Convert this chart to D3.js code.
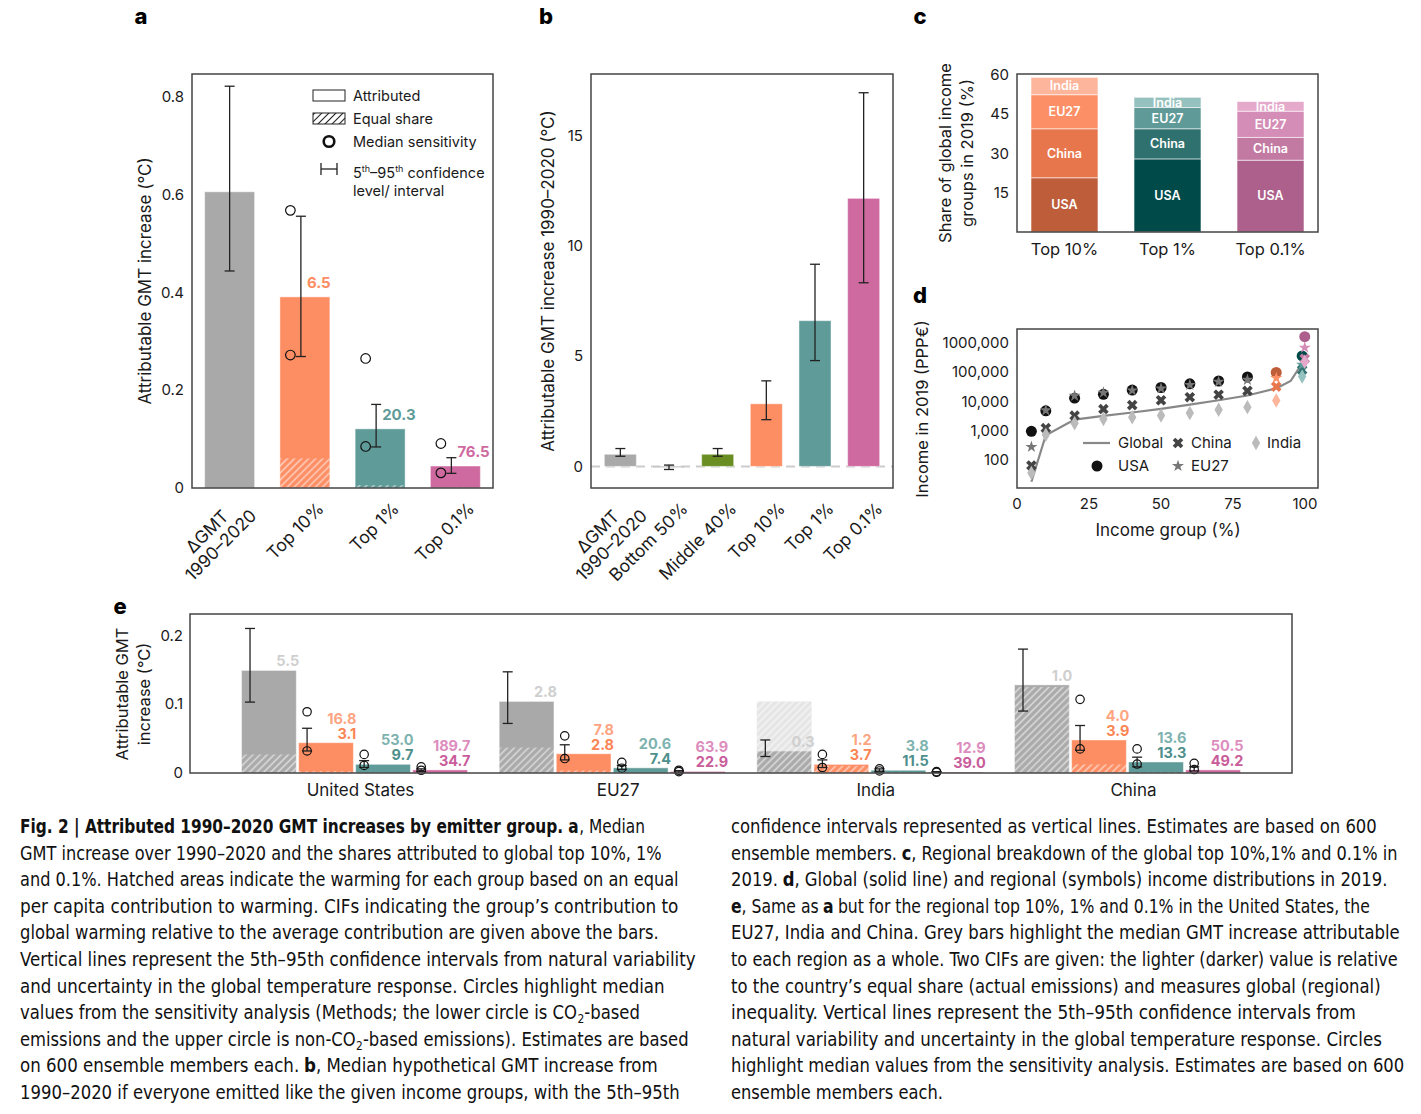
<!DOCTYPE html>
<html><head><meta charset="utf-8">
<script src="https://cdn.jsdelivr.net/npm/d3@7"></script>
<style>
body{margin:0;background:#fff}
svg{display:block;font-family:Inter,"Noto Sans",sans-serif}
</style></head><body>
<svg id="fig" width="1421" height="1114"></svg>
<script>
// ---- data: panel a
const aGroups = ["ΔGMT|1990–2020", "Top 10%", "Top 1%", "Top 0.1%"];
const aAttributed = [0.606, 0.391, 0.121, 0.045];
const aEqual = [null, 0.0606, 0.006, 0.0006];
const aErrLo = [0.444, 0.269, 0.084, 0.030];
const aErrHi = [0.822, 0.556, 0.171, 0.062];
const aSensLo = [null, 0.272, 0.085, 0.031];
const aSensHi = [null, 0.568, 0.265, 0.091];
const aCIF = [null, "6.5", "20.3", "76.5"];
const aTicks = [0, 0.2, 0.4, 0.6, 0.8];

// ---- data: panel b
const bGroups = ["ΔGMT|1990–2020", "Bottom 50%", "Middle 40%", "Top 10%", "Top 1%", "Top 0.1%"];
const bValues = [0.55, -0.04, 0.55, 2.84, 6.61, 12.16];
const bErrLo = [0.46, -0.14, 0.46, 2.12, 4.80, 8.33];
const bErrHi = [0.81, 0.06, 0.81, 3.88, 9.17, 16.95];
const bTicks = [0, 5, 10, 15];

// ---- data: panel c (share of global income group, %)
const cGroups = ["Top 10%", "Top 1%", "Top 0.1%"];
const cRegions = ["USA", "China", "EU27", "India"];
const cUSA = [20.7, 27.9, 27.4];
const cChina = [18.7, 11.5, 8.7];
const cEU27 = [13.0, 8.1, 10.0];
const cIndia = [6.6, 3.9, 3.7];
const cTicks = [15, 30, 45, 60];

// ---- data: panel d (income, PPP€)
const dGlobalPct = [5, 10, 20, 30, 40, 50, 60, 70, 80, 90, 95, 99, 99.9];
const dGlobalInc = [18, 700, 2400, 3200, 4200, 5600, 7800, 11000, 16000, 28000, 50000, 200000, 450000];
const dPct = [5, 10, 20, 30, 40, 50, 60, 70, 80, 90, 99, 99.9];
const dUSA = [950, 4800, 13000, 17500, 24500, 30000, 40000, 50000, 69000, 98000, 360000, 1640000];
const dChina = [65, 1230, 3300, 5500, 7500, 11000, 14000, 17000, 23000, 32000, 120000, 290000];
const dEU27 = [280, 5000, 15600, 20000, 24000, 28000, 37000, 47000, 55000, 63000, 180000, 690000];
const dIndia = [36, 730, 1800, 2500, 2900, 3300, 4000, 5200, 6400, 10800, 71000, 230000];
const dYTicks = [100, 1000, 10000, 100000, 1000000];
const dYTickLabels = ["100", "1,000", "10,000", "100,000", "1000,000"];
const dXTicks = [0, 25, 50, 75, 100];

// ---- data: panel e (rows: United States, EU27, India, China; cols: region, top10, top1, top0.1)
const eRegions = ["United States", "EU27", "India", "China"];
const eGroups = ["Region", "Top 10%", "Top 1%", "Top 0.1%"];
const eAttributed = [[0.149, 0.044, 0.0126, 0.0045], [0.104, 0.028, 0.0075, 0.0023], [0.032, 0.0125, 0.004, 0.0013], [0.128, 0.048, 0.016, 0.0045]];
const eEqual = [[0.027, 0.0027, 0.0003, 0.00003], [0.037, 0.0037, 0.0004, 0.00004], [0.104, 0.0104, 0.001, 0.0001], [0.125, 0.0125, 0.0013, 0.0001]];
const eErrLo = [[0.103, 0.032, 0.008, 0.002], [0.072, 0.019, 0.005, 0.0015], [0.024, 0.008, 0.0025, 0.0008], [0.090, 0.033, 0.009, 0.003]];
const eErrHi = [[0.210, 0.065, 0.018, 0.006], [0.147, 0.041, 0.011, 0.0035], [0.048, 0.019, 0.006, 0.002], [0.180, 0.069, 0.023, 0.009]];
const eSensLo = [[null, 0.032, 0.011, 0.004], [null, 0.021, 0.007, 0.002], [null, 0.008, 0.003, 0.001], [null, 0.035, 0.013, 0.005]];
const eSensHi = [[null, 0.089, 0.027, 0.009], [null, 0.054, 0.0155, 0.004], [null, 0.027, 0.006, 0.002], [null, 0.107, 0.035, 0.014]];
const eCIFLight = [["5.5", "16.8", "53.0", "189.7"], ["2.8", "7.8", "20.6", "63.9"], ["0.3", "1.2", "3.8", "12.9"], ["1.0", "4.0", "13.6", "50.5"]];
const eCIFDark = [[null, "3.1", "9.7", "34.7"], [null, "2.8", "7.4", "22.9"], [null, "3.7", "11.5", "39.0"], [null, "3.9", "13.3", "49.2"]];
const eTicks = [0, 0.1, 0.2];

// ---- colours
const GRAY = "#a9a9a9", ORANGE = "#fd8d63", TEAL = "#5f9b98", PINK = "#cf6aa1", GREEN = "#6b8e23";
const aColors = [GRAY, ORANGE, TEAL, PINK];
const bColors = [GRAY, "#777777", GREEN, ORANGE, TEAL, PINK];
const eLight = ["#cfcfcf", "#fda582", "#7eb2af", "#dc8dbd"];
const eDark = ["#bdbdbd", "#fb8553", "#4f8f8c", "#c95c9a"];
const cPalette = [["#be5d3a", "#e8764c", "#fc8f66", "#fdb59b"], ["#004b4a", "#2f716e", "#5f9a98", "#95c1be"], ["#ad608b", "#c27aa2", "#d48db6", "#e5a9cc"]];
const dBase = ["#111111", "#444444", "#777777", "#bbbbbb"];
const INK = "#1a1a1a", FRAME = "#444";

const svg = d3.select('#fig');
const defs = svg.append('defs');
function hatch(id, color, w) {
  defs.append('pattern').attr('id', id).attr('patternUnits', 'userSpaceOnUse')
    .attr('width', 5).attr('height', 5).attr('patternTransform', 'rotate(45)')
    .append('line').attr('x1', 2.5).attr('y1', 0).attr('x2', 2.5).attr('y2', 5)
    .attr('stroke', color).attr('stroke-width', w);
}
hatch('hw', 'rgba(255,255,255,0.6)', 1.5);
hatch('hk', '#222', 1);

function frame(g, x0, x1, y0, y1) {
  g.append('rect').attr('x', x0).attr('y', y0).attr('width', x1 - x0).attr('height', y1 - y0)
    .attr('fill', 'none').attr('stroke', FRAME).attr('stroke-width', 1.5);
}
function errbar(g, x, ya, yb, cap) {
  const s = g.append('g').attr('stroke', '#222').attr('stroke-width', 1.3);
  s.append('line').attr('x1', x).attr('x2', x).attr('y1', ya).attr('y2', yb);
  [ya, yb].forEach(y => s.append('line').attr('x1', x - cap).attr('x2', x + cap).attr('y1', y).attr('y2', y));
}
function circ(g, x, y, r) {
  g.append('circle').attr('cx', x).attr('cy', y).attr('r', r).attr('fill', 'none').attr('stroke', '#111').attr('stroke-width', 1.2);
}
function yLabel(g, x, y, lines, size) {
  lines.forEach((l, i) => g.append('text').attr('transform', `translate(${x + i * size * 1.35},${y}) rotate(-90)`)
    .attr('text-anchor', 'middle').attr('dy', '0.35em').attr('font-size', size).attr('fill', INK).text(l));
}
function yTicks(g, scale, ticks, x, fmt, size) {
  ticks.forEach((t, i) => g.append('text').attr('x', x).attr('y', scale(t)).attr('dy', '0.35em')
    .attr('text-anchor', 'end').attr('font-size', size).attr('fill', INK).text(fmt(t, i)));
}
function rotLabel(g, cx, label, size) {
  const lines = label.split('|');
  if (lines.length === 1) {
    g.append('text').attr('transform', `translate(${cx + 11},501) rotate(-45)`).attr('text-anchor', 'end')
      .attr('dy', '0.72em').attr('font-size', size).attr('fill', INK).text(lines[0]);
  } else {
    const t = g.append('g').attr('transform', `translate(${cx + 19},508) rotate(-45)`);
    const l2 = t.append('text').attr('text-anchor', 'end').attr('dy', '0.72em').attr('font-size', size).attr('fill', INK).text(lines[1]);
    const w = l2.node().getComputedTextLength();
    t.append('text').attr('x', -w / 2).attr('y', -size * 1.1).attr('text-anchor', 'middle').attr('dy', '0.72em')
      .attr('font-size', size).attr('fill', INK).text(lines[0]);
  }
}
function letter(x, y, s) {
  svg.append('text').attr('x', x).attr('y', y).attr('text-anchor', 'middle').attr('font-size', 22)
    .attr('font-weight', 800).attr('fill', '#000').text(s);
}
// bar with optional equal-share hatching
function hatchedBar(g, x, w, y, v, eq, color) {
  g.append('rect').attr('x', x).attr('y', y(Math.max(v, 0))).attr('width', w)
    .attr('height', Math.max(Math.abs(y(v) - y(0)), 0.8)).attr('fill', color)
    .attr('stroke', 'rgba(255,255,255,0.45)').attr('stroke-width', 1);
  if (eq == null) return;
  if (eq > v) g.append('rect').attr('x', x).attr('y', y(eq)).attr('width', w).attr('height', y(v) - y(eq))
    .attr('fill', color).attr('fill-opacity', 0.3);
  g.append('rect').attr('x', x).attr('y', y(eq)).attr('width', w).attr('height', y(0) - y(eq)).attr('fill', 'url(#hw)');
}

// ================= panel a
const ga = svg.append('g');
const ax = d3.scaleBand().domain(aGroups).range([192, 493]).paddingInner(0.336).paddingOuter(0.168);
const ay = d3.scaleLinear().domain([0, 0.847]).range([488, 74]);
const bwA = ax.bandwidth();
aGroups.forEach((g, i) => {
  const x0 = ax(g);
  hatchedBar(ga, x0, bwA, ay, aAttributed[i], aEqual[i], aColors[i]);
  const ex = i === 0 ? x0 + bwA / 2 : x0 + bwA * 0.42;
  errbar(ga, ex, ay(aErrHi[i]), ay(aErrLo[i]), 5);
  if (aSensLo[i] != null) {
    circ(ga, x0 + bwA * 0.21, ay(aSensLo[i]), 4.8);
    circ(ga, x0 + bwA * 0.21, ay(aSensHi[i]), 4.8);
  }
  if (aCIF[i]) ga.append('text').attr('x', ex + 6).attr('y', ay(aAttributed[i]) - 9).attr('font-size', 15)
    .attr('font-weight', 700).attr('fill', aColors[i]).text(aCIF[i]);
  rotLabel(ga, x0 + bwA / 2, g, 17.5);
});
yTicks(ga, ay, aTicks, 184, t => t === 0 ? '0' : t.toFixed(1), 15);
yLabel(ga, 145, 281, ['Attributable GMT increase (°C)'], 17);
frame(ga, 192, 493, 74, 488);
// legend
const lg = ga.append('g').attr('font-size', 14.5).attr('fill', INK);
lg.append('rect').attr('x', 313).attr('y', 90).attr('width', 32).attr('height', 11).attr('fill', 'none').attr('stroke', '#222');
lg.append('rect').attr('x', 313).attr('y', 113).attr('width', 32).attr('height', 11).attr('fill', 'url(#hk)').attr('stroke', '#222');
lg.append('circle').attr('cx', 329).attr('cy', 141.5).attr('r', 5.3).attr('fill', 'none').attr('stroke', '#111').attr('stroke-width', 2.6);
lg.append('g').attr('stroke', '#222').attr('stroke-width', 1.3).call(s => {
  s.append('line').attr('x1', 321).attr('x2', 337).attr('y1', 169).attr('y2', 169);
  s.append('line').attr('x1', 321).attr('x2', 321).attr('y1', 163).attr('y2', 175);
  s.append('line').attr('x1', 337).attr('x2', 337).attr('y1', 163).attr('y2', 175);
});
lg.append('text').attr('x', 353).attr('y', 100.5).text('Attributed');
lg.append('text').attr('x', 353).attr('y', 124).text('Equal share');
lg.append('text').attr('x', 353).attr('y', 147).text('Median sensitivity');
const lt = lg.append('text').attr('x', 353).attr('y', 178);
lt.append('tspan').text('5');
lt.append('tspan').attr('font-size', 9).attr('dy', -6).text('th');
lt.append('tspan').attr('dy', 6).text('–95');
lt.append('tspan').attr('font-size', 9).attr('dy', -6).text('th');
lt.append('tspan').attr('dy', 6).text(' confidence');
lg.append('text').attr('x', 353).attr('y', 196).text('level/ interval');

// ================= panel b
const gb = svg.append('g');
const bx = d3.scaleBand().domain(bGroups).range([591, 893]).paddingInner(0.342).paddingOuter(0.274);
const by = d3.scaleLinear().domain([-0.98, 17.8]).range([488, 74]);
const bwB = bx.bandwidth();
gb.append('line').attr('x1', 591).attr('x2', 893).attr('y1', by(0)).attr('y2', by(0))
  .attr('stroke', '#cccccc').attr('stroke-width', 2).attr('stroke-dasharray', '9,6');
bGroups.forEach((g, i) => {
  const x0 = bx(g);
  hatchedBar(gb, x0, bwB, by, bValues[i], null, bColors[i]);
  errbar(gb, x0 + bwB / 2, by(bErrHi[i]), by(bErrLo[i]), 5);
  rotLabel(gb, x0 + bwB / 2, g, 17.5);
});
yTicks(gb, by, bTicks, 583, t => String(t), 15);
yLabel(gb, 548, 281, ['Attributable GMT increase 1990–2020 (°C)'], 17);
frame(gb, 591, 893, 74, 488);

// ================= panel c
const gc = svg.append('g');
const cx = d3.scaleBand().domain(cGroups).range([1017, 1318]).paddingInner(0.35).paddingOuter(0.136);
const cy = d3.scaleLinear().domain([0, 60.3]).range([232, 74]);
const cRows = cGroups.map((g, i) => ({ group: g, USA: cUSA[i], China: cChina[i], EU27: cEU27[i], India: cIndia[i] }));
const cStack = d3.stack().keys(cRegions)(cRows);
cStack.forEach((layer, k) => {
  layer.forEach((seg, i) => {
    const x0 = cx(cGroups[i]);
    gc.append('rect').attr('x', x0).attr('y', cy(seg[1])).attr('width', cx.bandwidth())
      .attr('height', cy(seg[0]) - cy(seg[1])).attr('fill', cPalette[i][k])
      .attr('stroke', 'rgba(255,255,255,0.55)').attr('stroke-width', 1);
    gc.append('text').attr('x', x0 + cx.bandwidth() / 2).attr('y', cy((seg[0] + seg[1]) / 2)).attr('dy', '0.35em')
      .attr('text-anchor', 'middle').attr('font-size', 12.5).attr('font-weight', 600).attr('fill', '#fff').text(layer.key);
  });
});
cGroups.forEach(g => gc.append('text').attr('x', cx(g) + cx.bandwidth() / 2).attr('y', 255)
  .attr('text-anchor', 'middle').attr('font-size', 16.5).attr('fill', INK).text(g));
yTicks(gc, cy, cTicks, 1009, t => String(t), 15);
yLabel(gc, 945, 153, ['Share of global income', 'groups in 2019 (%)'], 16.5);
frame(gc, 1017, 1318, 74, 232);

// ================= panel d
const gd = svg.append('g');
const dx = d3.scaleLinear().domain([0, 104.5]).range([1017, 1318]);
const dy = d3.scaleLog().domain([11, 3.0e6]).range([488, 329]);
gd.append('path').datum(dGlobalPct.map((p, i) => [p, dGlobalInc[i]]))
  .attr('d', d3.line().x(d => dx(d[0])).y(d => dy(d[1])))
  .attr('fill', 'none').attr('stroke', '#888').attr('stroke-width', 2.2);
const dSeries = [
  { name: 'USA', vals: dUSA, k: 0, sym: d3.symbolCircle, size: 95, rot: 0 },
  { name: 'China', vals: dChina, k: 1, sym: d3.symbolCross, size: 70, rot: 45 },
  { name: 'EU27', vals: dEU27, k: 2, sym: d3.symbolStar, size: 45, rot: 0 },
  { name: 'India', vals: dIndia, k: 3, sym: d3.symbolDiamond, size: 60, rot: 0 }
];
function colorFor(p, k) {
  if (p >= 99.9) return cPalette[2][k];
  if (p >= 99) return cPalette[1][k];
  if (p >= 90) return cPalette[0][k];
  return dBase[k];
}
dSeries.forEach(s => {
  s.vals.forEach((v, i) => {
    gd.append('path').attr('d', d3.symbol(s.sym, s.size)())
      .attr('transform', `translate(${dx(dPct[i])},${dy(v)}) rotate(${s.rot})`)
      .attr('fill', colorFor(dPct[i], s.k));
  });
});
// legend d
const ld = gd.append('g').attr('font-size', 15).attr('fill', INK);
ld.append('line').attr('x1', 1083).attr('x2', 1110).attr('y1', 443).attr('y2', 443).attr('stroke', '#888').attr('stroke-width', 2.2);
ld.append('text').attr('x', 1118).attr('y', 443).attr('dy', '0.35em').text('Global');
const legPos = { USA: [1097, 466, 1118], China: [1178, 443, 1191], EU27: [1178, 466, 1191], India: [1256, 443, 1267] };
dSeries.forEach(s => {
  const p = legPos[s.name];
  ld.append('path').attr('d', d3.symbol(s.sym, s.size)()).attr('transform', `translate(${p[0]},${p[1]}) rotate(${s.rot})`).attr('fill', dBase[s.k]);
  ld.append('text').attr('x', p[2]).attr('y', p[1]).attr('dy', '0.35em').text(s.name);
});
yTicks(gd, dy, dYTicks, 1009, (t, i) => dYTickLabels[i], 15);
dXTicks.forEach(t => gd.append('text').attr('x', dx(t)).attr('y', 504).attr('dy', '0.35em')
  .attr('text-anchor', 'middle').attr('font-size', 15).attr('fill', INK).text(t));
gd.append('text').attr('x', 1168).attr('y', 530).attr('dy', '0.35em').attr('text-anchor', 'middle')
  .attr('font-size', 17).attr('fill', INK).text('Income group (%)');
yLabel(gd, 922, 409, ['Income in 2019 (PPP€)'], 16.5);
frame(gd, 1017, 1318, 329, 488);

// ================= panel e
const ge = svg.append('g');
const ex = d3.scaleBand().domain(eRegions).range([190, 1292]).paddingInner(0.123).paddingOuter(0.2);
const exi = d3.scaleBand().domain(eGroups).range([0, ex.bandwidth()]).paddingInner(0.04);
const ey = d3.scaleLinear().domain([0, 0.231]).range([773, 614]);
const bwE = exi.bandwidth();
eRegions.forEach((r, ri) => {
  eGroups.forEach((g, gi) => {
    const x0 = ex(r) + exi(g);
    const v = eAttributed[ri][gi];
    hatchedBar(ge, x0, bwE, ey, v, eEqual[ri][gi], aColors[gi]);
    const xe = x0 + bwE * 0.155;
    errbar(ge, xe, ey(eErrHi[ri][gi]), ey(eErrLo[ri][gi]), 5);
    if (eSensLo[ri][gi] != null) {
      circ(ge, xe, ey(eSensLo[ri][gi]), 4.2);
      circ(ge, xe, ey(eSensHi[ri][gi]), 4.2);
    }
    const base = Math.min(ey(v), 772) - 4;
    const xr = x0 + bwE + 3;
    if (eCIFDark[ri][gi]) {
      ge.append('text').attr('x', xr).attr('y', base).attr('text-anchor', 'end').attr('font-size', 14.5)
        .attr('font-weight', 700).attr('fill', eDark[gi]).text(eCIFDark[ri][gi]);
      ge.append('text').attr('x', xr).attr('y', base - 15).attr('text-anchor', 'end').attr('font-size', 14.5)
        .attr('font-weight', 700).attr('fill', eLight[gi]).text(eCIFLight[ri][gi]);
    } else {
      ge.append('text').attr('x', xr).attr('y', base).attr('text-anchor', 'end').attr('font-size', 14.5)
        .attr('font-weight', 700).attr('fill', eLight[gi]).text(eCIFLight[ri][gi]);
    }
  });
  ge.append('text').attr('x', ex(r) + ex.bandwidth() / 2 + 6).attr('y', 790).attr('dy', '0.35em')
    .attr('text-anchor', 'middle').attr('font-size', 17).attr('fill', INK).text(r);
});
yTicks(ge, ey, eTicks, 183, t => t === 0 ? '0' : t.toFixed(1), 15);
yLabel(ge, 122, 694, ['Attributable GMT', 'increase  (°C)'], 16.5);
frame(ge, 190, 1292, 614, 773);

// panel letters
letter(141, 24, 'a'); letter(546, 24, 'b'); letter(920, 24, 'c'); letter(920, 303, 'd'); letter(120, 614, 'e');

// ================= caption
const capFont = '"Liberation Sans Narrow","DejaVu Sans Condensed","Roboto Condensed","Open Sans",sans-serif';
const capLeft = [
  [["b", "Fig. 2 | Attributed 1990–2020 GMT increases by emitter group. a"], ["n", ", Median"]],
  [["n", "GMT increase over 1990–2020 and the shares attributed to global top 10%, 1%"]],
  [["n", "and 0.1%. Hatched areas indicate the warming for each group based on an equal"]],
  [["n", "per capita contribution to warming. CIFs indicating the group’s contribution to"]],
  [["n", "global warming relative to the average contribution are given above the bars."]],
  [["n", "Vertical lines represent the 5th–95th confidence intervals from natural variability"]],
  [["n", "and uncertainty in the global temperature response. Circles highlight median"]],
  [["n", "values from the sensitivity analysis (Methods; the lower circle is CO"], ["s", "2"], ["n", "-based"]],
  [["n", "emissions and the upper circle is non-CO"], ["s", "2"], ["n", "-based emissions). Estimates are based"]],
  [["n", "on 600 ensemble members each. "], ["b", "b"], ["n", ", Median hypothetical GMT increase from"]],
  [["n", "1990–2020 if everyone emitted like the given income groups, with the 5th–95th"]]
];
const capLeftEnd = [645, 662, 679, 679, 659, 696, 665, 640, 689, 658, 680];
const capRight = [
  [["n", "confidence intervals represented as vertical lines. Estimates are based on 600"]],
  [["n", "ensemble members. "], ["b", "c"], ["n", ", Regional breakdown of the global top 10%,1% and 0.1% in"]],
  [["n", "2019. "], ["b", "d"], ["n", ", Global (solid line) and regional (symbols) income distributions in 2019."]],
  [["b", "e"], ["n", ", Same as "], ["b", "a"], ["n", " but for the regional top 10%, 1% and 0.1% in the United States, the"]],
  [["n", "EU27, India and China. Grey bars highlight the median GMT increase attributable"]],
  [["n", "to each region as a whole. Two CIFs are given: the lighter (darker) value is relative"]],
  [["n", "to the country’s equal share (actual emissions) and measures global (regional)"]],
  [["n", "inequality. Vertical lines represent the 5th–95th confidence intervals from"]],
  [["n", "natural variability and uncertainty in the global temperature response. Circles"]],
  [["n", "highlight median values from the sensitivity analysis. Estimates are based on 600"]],
  [["n", "ensemble members each."]]
];
const capRightEnd = [1377, 1398, 1388, 1370, 1400, 1398, 1381, 1356, 1382, 1405, 943];
// each line is a group squeezed horizontally to the reference line length
function caption(lines, ends, x0) {
  lines.forEach((parts, i) => {
    const y = 833 + i * 26.6;
    const line = svg.append('g');
    const gap = 5;
    let x = 0;
    parts.forEach(([k, s]) => {
      if (/^\s/.test(s)) x += gap;
      const t = line.append('text').attr('x', x).attr('y', k === 's' ? 4 : 0).attr('font-family', capFont)
        .attr('font-size', k === 's' ? 13 : 20).attr('fill', '#111')
        .attr('font-weight', k === 'b' ? 700 : 400).text(s.trim());
      x += t.node().getComputedTextLength();
      if (/\s$/.test(s)) x += gap;
    });
    const f = (ends[i] - x0) / x;
    line.attr('transform', `translate(${x0},${y}) scale(${f},1)`);
  });
}
caption(capLeft, capLeftEnd, 20);
caption(capRight, capRightEnd, 731);
</script>
</body></html>
